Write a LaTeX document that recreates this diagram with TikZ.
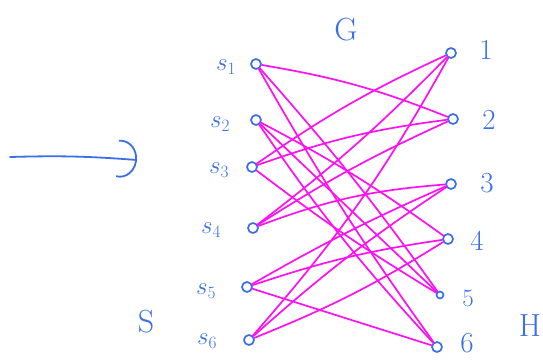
\documentclass[tikz,border=0pt]{standalone}
\usetikzlibrary{arrows.meta}
\definecolor{inkblue}{HTML}{3B6FE8}
\definecolor{inkmag}{HTML}{FF10F0}
\begin{document}
\begin{tikzpicture}[x=1pt,y=-1pt,
  vert/.style={circle,draw=inkblue,line width=1.7pt,inner sep=0pt,minimum size=10pt},
  smallvert/.style={vert,minimum size=7pt},
  lab/.style={text=inkblue,font=\fontsize{25}{27}\selectfont,inner sep=0pt},
  rlab/.style={text=inkblue,font=\fontsize{29}{31}\selectfont,inner sep=0pt},
  biglab/.style={text=inkblue,font=\fontsize{32}{34}\selectfont,inner sep=0pt},
  edge/.style={draw=inkmag,line width=1.7pt,line cap=round},
  arr/.style={draw=inkblue,line width=1.8pt,line cap=round,-{Arc Barb[arc=200,length=4pt,width=9pt,scale=4.2]}}]
\useasboundingbox (0,0) rectangle (543,361);
% left vertices
\node[vert] (s1) at (256,64) {};
\node[vert] (s2) at (256,120) {};
\node[vert] (s3) at (252,167) {};
\node[vert] (s4) at (253,228) {};
\node[vert] (s5) at (247,287) {};
\node[vert] (s6) at (249,340) {};
% right vertices
\node[vert] (r1) at (451,53) {};
\node[vert] (r2) at (453,119) {};
\node[vert] (r3) at (451,184) {};
\node[vert] (r4) at (448,239) {};
\node[smallvert] (r5) at (440,295) {};
\node[vert] (r6) at (437,347) {};
% left labels
\node[lab] (ls1) at (226,67) {$s_1$};
\node[lab] (ls2) at (220,124) {$s_2$};
\node[lab] (ls3) at (219,170) {$s_3$};
\node[lab] (ls4) at (211,230) {$s_4$};
\node[lab] (ls5) at (206,291) {$s_5$};
\node[lab] (ls6) at (207,341) {$s_6$};
% right labels
\node[rlab] (lr1) at (486,50) {1};
\node[rlab] (lr2) at (489,120) {2};
\node[rlab] (lr3) at (487,183) {3};
\node[rlab] (lr4) at (477,241) {4};
\node[lab] (lr5) at (468,298) {5};
\node[rlab] (lr6) at (467,343) {6};
% set labels
\node[biglab] (G) at (346,30) {G};
\node[biglab] (S) at (146,322) {S};
\node[biglab] (H) at (530,326) {H};
% arrow
\coordinate (a0) at (10,157);
\coordinate (a1) at (137,160);
\draw[arr] (a0) to[bend left=3] (a1);
% edges
\draw[edge] (s1) to[bend left=6] (r2);
\draw[edge] (s1) to[bend left=3] (r5);
\draw[edge] (s1) to[bend right=3] (r6);
\draw[edge] (s2) to[bend left=4] (r4);
\draw[edge] (s2) to (r5);
\draw[edge] (s2) to[bend right=4] (r6);
\draw[edge] (s3) to[bend left=5] (r1);
\draw[edge] (s3) to[bend left=6] (r2);
\draw[edge] (s3) to[bend right=3] (r5);
\draw[edge] (s4) to[bend right=4] (r1);
\draw[edge] (s4) to[bend left=4] (r2);
\draw[edge] (s4) to[bend left=8] (r3);
\draw[edge] (s5) to[bend left=3] (r3);
\draw[edge] (s5) to[bend left=5] (r4);
\draw[edge] (s5) to (r6);
\draw[edge] (s6) to[bend right=6] (r1);
\draw[edge] (s6) to[bend left=4] (r3);
\draw[edge] (s6) to[bend right=5] (r4);
\end{tikzpicture}
\end{document}
